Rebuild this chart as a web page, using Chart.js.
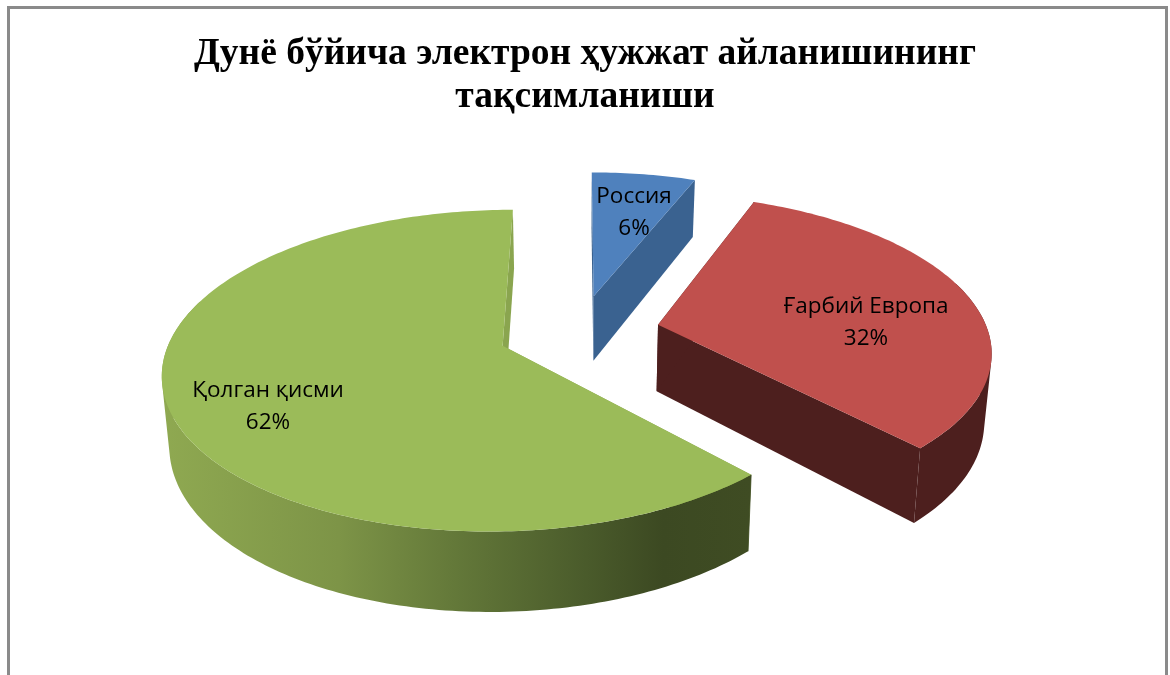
<!DOCTYPE html>
<html>
<head>
<meta charset="utf-8">
<style>html,body{margin:0;padding:0;background:#fff}canvas{display:block}</style>
<script src="https://cdn.jsdelivr.net/npm/chart.js@4/dist/chart.umd.js"></script>
</head>
<body>
<canvas id="c" width="1170" height="675"></canvas>
<script>
const titleLines = ["Дунё бўйича электрон ҳужжат айланишининг", "тақсимланиши"];
const categories = ["Россия", "Ғарбий Европа", "Қолган қисми"];
const shares = [6, 32, 62];
const explode = [60, 60, 60];
const topColors = ["#4F81BD", "#C0504D", "#9BBB59"];
const wallColors = ["#3A6290", "#4D1F1E", "#8AA54F"];
const outerStops = [
  [["0", "#3A6290"], ["1", "#3A6290"]],
  [["0", "#4D1F1E"], ["1", "#4D1F1E"]],
  [["0", "#8FA951"], [".3", "#7D9447"], [".5", "#637839"], [".72", "#4A5B2B"], [".85", "#3C4922"], ["1", "#3F4C23"]]
];
const labelCentres = [[634, 213], [866, 323], [268, 407]];

// view of the tilted pie plane
const view = {ox: 579, oy: 331.7, rx: 330, ry: 152.7, k: 0.153, depth: 67, shrink: 0.982, backLimit: -0.3};
function proj(X, Y, z) {
  const w = 1 - view.k * Y;
  const s = z ? view.shrink : 1;
  return [view.ox + s * view.rx * X / w, view.oy + view.ry * Y / w + (z ? view.depth / w : 0)];
}
function area(pts) {
  let s = 0;
  pts.forEach((p, i) => {
    const q = pts[(i + 1) % pts.length];
    s += p[0] * q[1] - q[0] * p[1];
  });
  return s;
}
function trace(ctx, pts) {
  pts.forEach((p, i) => i ? ctx.lineTo(p[0], p[1]) : ctx.moveTo(p[0], p[1]));
  ctx.closePath();
}
function poly(ctx, pts, fill, seal) {
  ctx.beginPath();
  trace(ctx, pts);
  ctx.fillStyle = fill;
  ctx.fill();
  if (seal) {
    ctx.strokeStyle = fill;
    ctx.lineWidth = 0.8;
    ctx.stroke();
  }
}
const tiltPie = {
  id: "tiltPie",
  beforeDraw(chart) {
    const ctx = chart.ctx;
    ctx.save();
    ctx.fillStyle = "#fff";
    ctx.fillRect(0, 0, chart.width, chart.height);
    ctx.fillStyle = "#8A8A8A";
    ctx.fillRect(7, 6, 1160, 3);
    ctx.fillRect(7, 6, 3, chart.height - 6);
    ctx.fillRect(1165, 6, 3, chart.height - 6);
    ctx.restore();
  },
  beforeDatasetDraw(chart, args) {
    const ctx = chart.ctx;
    const meta = args.meta;
    ctx.save();
    meta.data.forEach((el, i) => {
      const a0 = el.startAngle, a1 = el.endAngle, mid = (a0 + a1) / 2;
      const d = el.options.offset / el.outerRadius;
      const cx = Math.cos(mid) * d, cy = Math.sin(mid) * d;
      const n = Math.ceil((a1 - a0) / (Math.PI / 180));
      const rim = [], angles = [];
      for (let j = 0; j <= n; j++) {
        const a = a0 + (a1 - a0) * j / n;
        angles.push(a);
        rim.push([cx + Math.cos(a), cy + Math.sin(a)]);
      }
      const at = (q, z) => proj(q[0], q[1], z);
      const first = rim[0], last = rim[n], apex = [cx, cy];
      const top = rim.map(q => at(q, 0));
      const bottom = rim.map(q => at(q, 1));
      // rim wall, only where it faces the viewer, as one filled path
      const xs = top.concat(bottom).map(p => p[0]);
      const grad = ctx.createLinearGradient(Math.min(...xs), 0, Math.max(...xs), 0);
      outerStops[i].forEach(s => grad.addColorStop(+s[0], s[1]));
      // radial walls go first; the one shared with the rim colour is sealed over it
      poly(ctx, [at(apex, 0), at(last, 0), at(last, 1), at(apex, 1)], wallColors[i], false);
      poly(ctx, [at(apex, 0), at(first, 0), at(first, 1), at(apex, 1)], wallColors[i], false);
      ctx.beginPath();
      let any = false;
      for (let j = 0; j < n; j++) {
        if (Math.sin(angles[j]) < view.backLimit || Math.sin(angles[j + 1]) < view.backLimit) continue;
        const quad = [top[j], top[j + 1], bottom[j + 1], bottom[j]];
        if (area(quad) < 0) quad.reverse();
        trace(ctx, quad);
        any = true;
      }
      if (any) {
        ctx.fillStyle = grad;
        ctx.fill();
        ctx.strokeStyle = grad;
        ctx.lineWidth = 0.8;
        ctx.beginPath();
        ctx.moveTo(top[0][0], top[0][1]);
        ctx.lineTo(bottom[0][0], bottom[0][1]);
        ctx.stroke();
      }
      // top face
      poly(ctx, [at(apex, 0)].concat(top), el.options.backgroundColor, false);
    });
    const total = shares.reduce((s, v) => s + v, 0);
    ctx.fillStyle = "#000";
    ctx.textAlign = "center";
    ctx.textBaseline = "middle";
    ctx.font = '22.5px "Open Sans"';
    categories.forEach((name, i) => {
      const c = labelCentres[i];
      ctx.fillText(name, c[0], c[1] - 16);
      ctx.fillText(Math.round(shares[i] / total * 100) + "%", c[0], c[1] + 16);
    });
    ctx.restore();
    return false;
  }
};
new Chart(document.getElementById("c"), {
  type: "pie",
  data: {
    labels: categories,
    datasets: [{data: shares, backgroundColor: topColors, offset: explode, borderWidth: 0}]
  },
  options: {
    responsive: false,
    animation: false,
    layout: {padding: 0},
    plugins: {
      legend: {display: false},
      tooltip: {enabled: false},
      title: {
        display: true,
        text: titleLines,
        color: "#000",
        font: {family: '"Liberation Serif"', size: 37.5, weight: "bold", lineHeight: 1.15},
        padding: {top: 33, bottom: 7}
      }
    }
  },
  plugins: [tiltPie]
});
</script>
</body>
</html>
